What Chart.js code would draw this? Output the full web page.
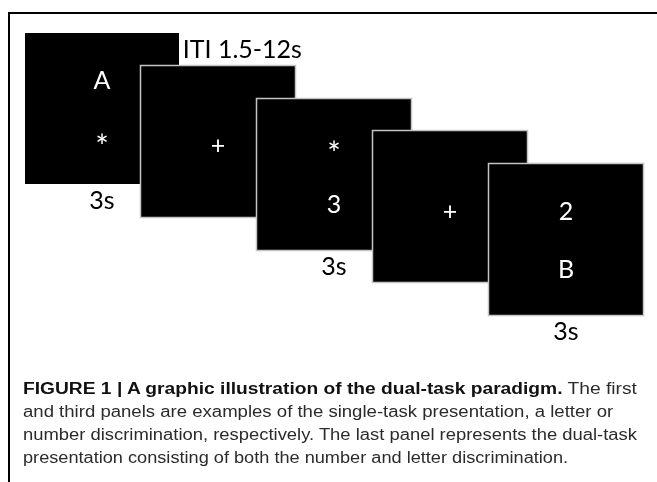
<!DOCTYPE html>
<html>
<head>
<meta charset="utf-8">
<script src="https://cdn.jsdelivr.net/npm/chart.js@4"></script>
<style>
  html, body { margin: 0; padding: 0; background: #fff; }
  body { width: 657px; height: 482px; position: relative; overflow: hidden; }
  #wrap { position: absolute; left: 0; top: 0; width: 657px; height: 482px; }
  #frame {
    position: absolute; left: 8px; top: 12px; width: 660px; height: 480px;
    border-top: 2px solid #000; border-left: 2px solid #000;
  }
  #caption {
    position: absolute; left: 23px; top: 377px;
    font-family: "Liberation Sans", Arial, sans-serif; font-size: 16px; line-height: 23px;
    color: #2b2b2b; white-space: nowrap;
  }
  #caption div { transform-origin: 0 0; }
  #caption b { color: #111; }
</style>
</head>
<body>
<div id="frame"></div>
<div id="wrap"><canvas id="diagram" width="657" height="482"></canvas></div>
<div id="caption"></div>
<script>
// trial sequence: one entry per screen, left to right
const screenOrder = [0, 1, 2, 3, 4];
const topSymbols = ['A', '', '*', '', '2'];
const middleSymbols = ['', '+', '', '+', ''];
const bottomSymbols = ['*', '', '3', '', 'B'];
const durationLabels = ['3s', '', '3s', '', '3s'];
const itiLabel = 'ITI 1.5-12s';
const captionTitle = 'FIGURE 1 | A graphic illustration of the dual-task paradigm.';
const captionLines = [
    ' The first',
    'and third panels are examples of the single-task presentation, a letter or',
    'number discrimination, respectively. The last panel represents the dual-task',
    'presentation consisting of both the number and letter discrimination.'
];
// the printed caption is set a little wide; stretch each line to match
const captionStretch = [1.20, 1.16, 1.15, 1.135];

// layout: one screen step in pixels, and where screen 0 starts
const STEP_X = 116, STEP_Y = 32.75;
const ORIGIN_X = 25, ORIGIN_Y = 33;
const PANEL_W = 154 / STEP_X, PANEL_H = 151 / STEP_Y;
const ROW_TOP = 1.45, ROW_MID = 2.44, ROW_BOTTOM = 3.21, ROW_DURATION = PANEL_H + 0.49;
const SYMBOL_FONT = '25px Lato, "Open Sans", sans-serif';
const STAR_FONT = '32px Lato, "Open Sans", sans-serif';

const caption = document.getElementById('caption');
captionLines.forEach((line, i) => {
    const div = document.createElement('div');
    div.innerHTML = i === 0 ? '<b>' + captionTitle + '</b>' + line : line;
    div.style.transform = 'scaleX(' + captionStretch[i] + ')';
    caption.appendChild(div);
});

// draw text so that the ink box is centred on (cx, cy)
function centredText(ctx, s, cx, cy) {
    const m = ctx.measureText(s);
    const asc = m.actualBoundingBoxAscent, desc = m.actualBoundingBoxDescent;
    ctx.fillText(s, cx, cy + (asc - desc) / 2);
}

const screensPlugin = {
    id: 'screens',
    afterDatasetsDraw(chart) {
        const ctx = chart.ctx;
        const x = chart.scales.x;
        const y = chart.scales.y;
        ctx.save();
        ctx.textAlign = 'center';
        ctx.textBaseline = 'alphabetic';
        screenOrder.forEach((step, i) => {
            const left = Math.round(x.getPixelForValue(step));
            const right = Math.round(x.getPixelForValue(step + PANEL_W));
            const top = Math.round(y.getPixelForValue(step));
            const bottom = Math.round(y.getPixelForValue(step + PANEL_H));
            ctx.fillStyle = '#000';
            ctx.fillRect(left, top, right - left, bottom - top);
            if (i > 0) {
                ctx.strokeStyle = '#c4c4c4';
                ctx.lineWidth = 1.5;
                ctx.strokeRect(left - 0.5, top - 0.5, right - left + 1, bottom - top + 1);
            }
            const cx = x.getPixelForValue(step + PANEL_W / 2);
            ctx.fillStyle = '#fff';
            [[topSymbols[i], ROW_TOP], [middleSymbols[i], ROW_MID], [bottomSymbols[i], ROW_BOTTOM]].forEach(([s, row]) => {
                if (!s) return;
                ctx.font = s === '*' ? STAR_FONT : SYMBOL_FONT;
                centredText(ctx, s, cx, y.getPixelForValue(step + row));
            });
            if (durationLabels[i]) {
                ctx.fillStyle = '#000';
                ctx.font = SYMBOL_FONT;
                centredText(ctx, durationLabels[i], cx, y.getPixelForValue(step + ROW_DURATION));
            }
        });
        ctx.fillStyle = '#000';
        ctx.font = SYMBOL_FONT;
        ctx.textAlign = 'left';
        ctx.fillText(itiLabel, x.getPixelForValue(1.36), y.getPixelForValue(0.76));
        ctx.restore();
    }
};

const ctx = document.getElementById('diagram').getContext('2d');
new Chart(ctx, {
    type: 'scatter',
    data: {
        datasets: [{
            data: screenOrder.map(s => ({ x: s, y: s })),
            pointRadius: 0,
            showLine: false
        }]
    },
    options: {
        responsive: false,
        animation: false,
        layout: { padding: 0 },
        plugins: { legend: { display: false }, tooltip: { enabled: false } },
        scales: {
            x: { type: 'linear', display: false, min: -ORIGIN_X / STEP_X, max: (657 - ORIGIN_X) / STEP_X },
            y: { type: 'linear', display: false, reverse: true, min: -ORIGIN_Y / STEP_Y, max: (482 - ORIGIN_Y) / STEP_Y }
        }
    },
    plugins: [screensPlugin]
});
</script>
</body>
</html>
